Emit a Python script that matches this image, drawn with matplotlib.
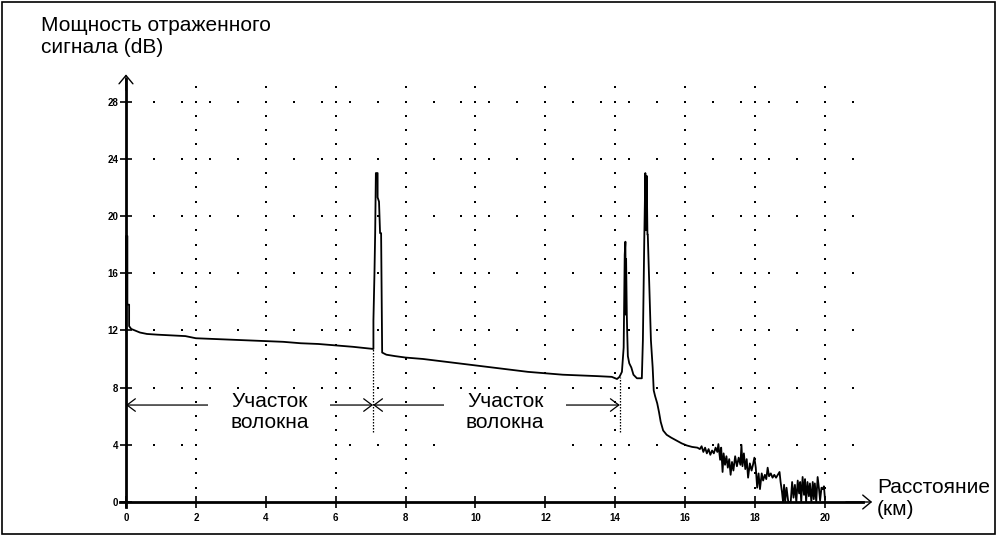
import matplotlib
matplotlib.use('Agg')
import matplotlib.pyplot as plt
from matplotlib.patches import Rectangle
import numpy as np

plt.rcParams['font.family'] = ['Liberation Sans', 'DejaVu Sans']

# OTDR trace, split into pieces
launch_km = [0.00, 0.00, 0.04, 0.04, 0.09, 0.09, 0.15, 0.25, 0.40, 0.60, 0.90, 1.30, 1.70, 2.00,
             2.50, 3.00, 3.50, 4.00, 4.50, 5.00, 5.50, 6.00, 6.50, 6.90, 7.08]
launch_db = [12.0, 18.6, 18.6, 13.8, 13.8, 12.3, 12.1, 12.0, 11.85, 11.75, 11.7, 11.65, 11.6, 11.45,
             11.4, 11.35, 11.3, 11.25, 11.2, 11.1, 11.05, 10.95, 10.85, 10.75, 10.7]

conn1_km = [7.08, 7.11, 7.13, 7.15, 7.20, 7.20, 7.24, 7.27, 7.30, 7.33, 7.45, 7.70, 8.00]
conn1_db = [12.7, 16.0, 18.8, 23.0, 23.0, 21.3, 21.0, 18.8, 18.8, 10.45, 10.3, 10.2, 10.1]

fiber2_km = [8.50, 9.00, 9.50, 10.00, 10.50, 11.00, 11.50, 12.00, 12.50, 13.00, 13.50, 13.90, 14.05, 14.12]
fiber2_db = [10.0, 9.85, 9.7, 9.55, 9.4, 9.25, 9.1, 9.0, 8.9, 8.85, 8.8, 8.75, 8.6, 8.75]

conn2_km = [14.19, 14.24, 14.27, 14.29, 14.30, 14.31, 14.33, 14.34, 14.36, 14.40, 14.46, 14.52, 14.62, 14.76,
            14.79, 14.83, 14.86, 14.88, 14.90, 14.92, 14.93, 15.02, 15.07, 15.10]
conn2_db = [9.1, 10.8, 17.3, 18.2, 13.1, 17.0, 13.1, 12.0, 10.2, 9.7, 9.4, 8.9, 8.65, 8.65,
            11.3, 18.4, 23.0, 19.0, 22.8, 18.7, 18.7, 11.3, 9.4, 7.8]

tail_km = [15.14, 15.20, 15.25, 15.30, 15.37, 15.47, 15.60, 15.75, 15.90, 16.05, 16.20, 16.35,
           16.42, 16.47, 16.52, 16.57, 16.62, 16.67, 16.72, 16.77, 16.82, 16.87, 16.92, 16.95,
           17.00, 17.03, 17.07, 17.10, 17.14, 17.18, 17.22, 17.26, 17.30, 17.34, 17.38, 17.43,
           17.48, 17.53, 17.58, 17.61, 17.64, 17.68, 17.72, 17.76, 17.80, 17.85, 17.90, 17.94,
           17.98, 18.02, 18.06, 18.10, 18.14, 18.19, 18.23, 18.28, 18.32, 18.36, 18.40, 18.45,
           18.50, 18.55, 18.60, 18.65, 18.70, 18.73, 18.77, 18.80, 18.83, 18.86, 18.90, 18.95,
           19.02, 19.06, 19.10, 19.14, 19.18, 19.22, 19.26, 19.29, 19.32, 19.36, 19.40, 19.43,
           19.46, 19.50, 19.54, 19.57, 19.61, 19.65, 19.68, 19.71, 19.75, 19.79, 19.83, 19.86,
           19.90, 19.94, 19.97, 20.00]
tail_db = [7.4, 6.9, 6.3, 5.6, 5.0, 4.7, 4.5, 4.3, 4.1, 3.95, 3.85, 3.8,
           3.7, 3.9, 3.5, 3.8, 3.4, 3.7, 3.3, 3.6, 3.4, 3.8, 3.5, 4.05,
           2.95, 3.8, 2.1, 3.4, 2.6, 3.2, 2.4, 3.0, 1.9, 2.8, 2.2, 3.2,
           2.5, 3.1, 2.6, 4.0, 2.5, 3.4, 2.3, 3.0, 1.7, 2.7, 2.2, 2.6,
           3.1, 2.4, 1.0, 2.0, 0.9, 2.0, 1.5, 1.9, 1.6, 2.4, 1.8, 2.0,
           1.7, 1.9, 1.7, 1.9, 2.1, 1.4, 0.7, 0.0, 1.2, 0.0, 1.0, 0.0,
           0.0, 1.4, 0.3, 1.2, 0.0, 1.5, 0.6, 1.4, 0.0, 1.75, 0.5, 1.6,
           0.0, 1.4, 0.4, 1.3, 0.0, 1.4, 0.2, 1.3, 0.0, 1.75, 0.9, 0.1,
           1.0, 0.9, 1.1, 0.2]

km = launch_km + conn1_km + fiber2_km + conn2_km + tail_km
db = launch_db + conn1_db + fiber2_db + conn2_db + tail_db

x_ticks = [0, 2, 4, 6, 8, 10, 12, 14, 16, 18, 20]
y_ticks = [0, 4, 8, 12, 16, 20, 24, 28]

events_km = [0.0, 7.07, 14.13]   # fiber section boundaries
marker_db = 6.78
label_km = [4.1, 10.85]
label_text = 'Участок\nволокна'

fig = plt.figure(figsize=(9.97, 5.35), dpi=100)
ax = fig.add_axes([108.5 / 997, 18.7 / 535, 768.9 / 997, 450.5 / 535])
ax.set_xlim(-0.5, 21.5)
ax.set_ylim(-1, 30.5)

# dotted grid
gx = np.arange(2, 21, 2)
gy = np.arange(1, 30, 1)
cx, cy = np.meshgrid(gx, gy)
ax.plot(cx.ravel(), cy.ravel(), 's', color='k', ms=1.6, mew=0, zorder=1)
rx = np.arange(0.8, 21.0, 0.8)
ry = np.arange(4, 29, 4)
rxx, ryy = np.meshgrid(rx, ry)
ax.plot(rxx.ravel(), ryy.ravel(), 's', color='k', ms=1.6, mew=0, zorder=1)

# section arrows
for a, b in zip(events_km[:-1], events_km[1:]):
    ax.annotate('', xy=(a, marker_db), xytext=(b, marker_db),
                arrowprops=dict(arrowstyle='<->,head_length=0.6,head_width=0.45',
                                lw=0.9, color='k', shrinkA=0, shrinkB=0), zorder=1.2)

# white backgrounds behind labels
for lx in label_km:
    ax.add_patch(Rectangle((lx - 1.75, 0.2), 3.5, 7.5, facecolor='white',
                           edgecolor='none', zorder=1.5))
    ax.text(lx, 6.3, label_text, ha='center', va='center', fontsize=15,
            linespacing=1.15, zorder=4)

# dotted drops at the connectors
ax.vlines(events_km[1:], 4.9, [10.7, 8.75], colors='k', lw=0.9,
          linestyles=(0, (1.2, 1.2)), zorder=2)

ax.plot(km, db, color='k', lw=1.3, zorder=5)

# axes as arrows
for s in ['top', 'right']:
    ax.spines[s].set_visible(False)
ax.spines['left'].set_position(('data', 0))
ax.spines['bottom'].set_position(('data', 0))
ax.spines['left'].set_bounds(-0.35, 29.6)
ax.spines['bottom'].set_bounds(-0.17, 21.1)
ax.spines['left'].set_linewidth(2)
ax.spines['bottom'].set_linewidth(2)
ax.annotate('', xy=(0, 29.9), xytext=(0, 28.8), annotation_clip=False,
            arrowprops=dict(arrowstyle='->,head_length=0.6,head_width=0.5',
                            lw=1, color='k', shrinkA=0, shrinkB=0))
ax.annotate('', xy=(21.35, 0), xytext=(20.6, 0), annotation_clip=False,
            arrowprops=dict(arrowstyle='->,head_length=0.6,head_width=0.5',
                            lw=1, color='k', shrinkA=0, shrinkB=0))

ax.set_xticks(x_ticks)
ax.set_yticks(y_ticks)
ax.tick_params(axis='x', direction='inout', length=8, width=1.2, pad=4,
               labelsize=7)
ax.tick_params(axis='y', direction='inout', length=9, width=1.2, pad=1,
               labelsize=7)
for lab in ax.get_xticklabels() + ax.get_yticklabels():
    lab.set_fontweight('bold')

fig.text(41 / 997, 1 - 16 / 535, 'Мощность отраженного\nсигнала (dB)',
         ha='left', va='top', fontsize=15, linespacing=1.2)
fig.text(877 / 997, (535 - 498.5) / 535, 'Расстояние\n(км)',
         ha='left', va='center', fontsize=15, linespacing=1.15)

fig.add_artist(Rectangle((2 / 997, 1 / 535), 993 / 997, 532 / 535,
                         transform=fig.transFigure, fill=False, lw=1.2, ec='k'))

fig.savefig('out.png', dpi=100)
